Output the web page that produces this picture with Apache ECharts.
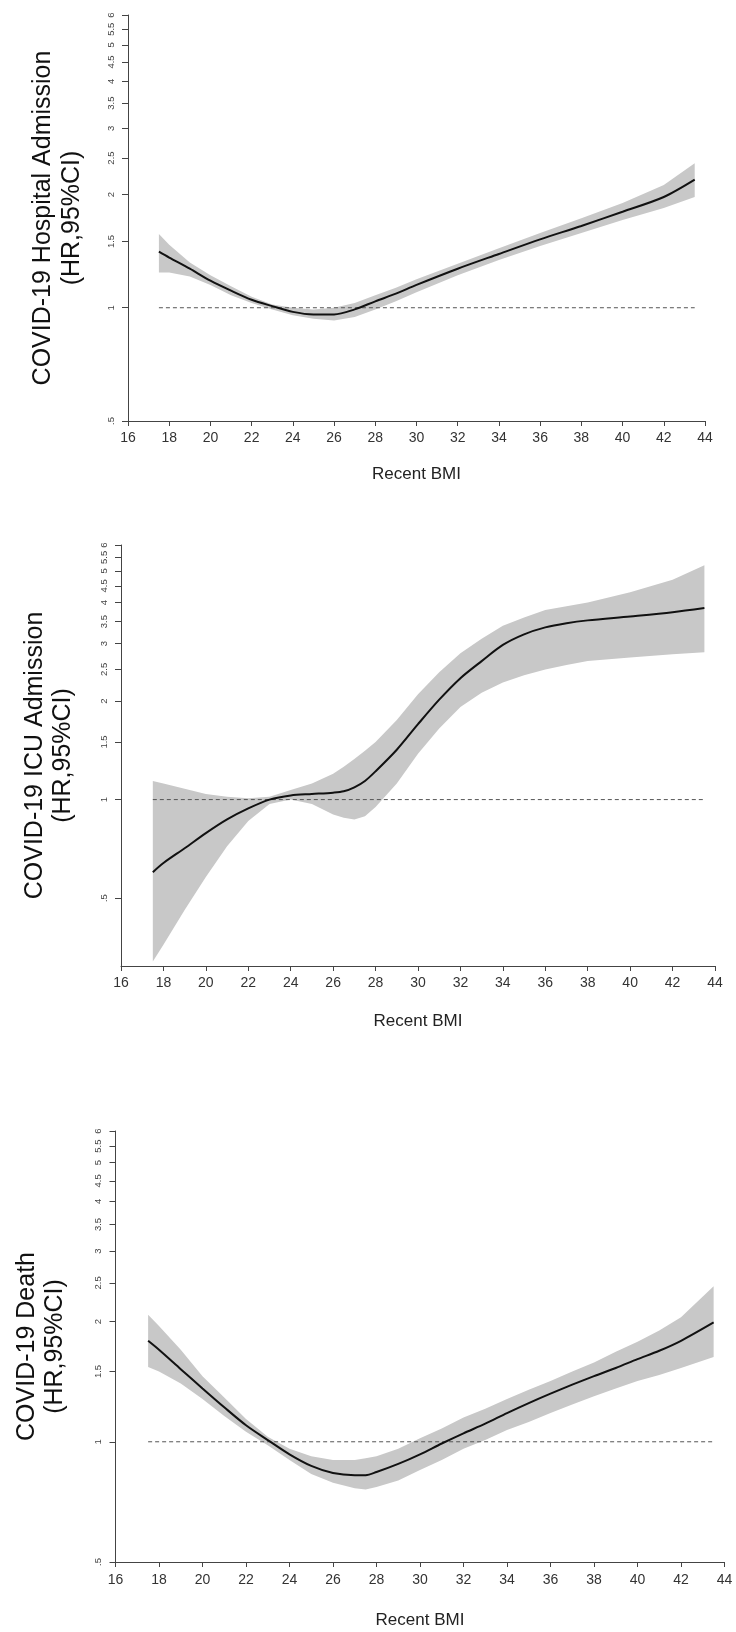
<!DOCTYPE html>
<html><head><meta charset="utf-8">
<script src="https://cdn.jsdelivr.net/npm/echarts@6/dist/echarts.min.js"></script>
<style>html,body{margin:0;padding:0;background:#fff}#c{width:736px;height:1632px}</style>
</head><body><div id="c"></div>
<script>
// ---- data ----
const yTicks = [0.5, 1, 1.5, 2, 2.5, 3, 3.5, 4, 4.5, 5, 5.5, 6];
const refHR = 1;
const bmiRange = [17.5, 43.5];

// Panel 1: Hospital admission
const bmi1 = [17.5, 18, 19, 20, 21, 22, 23, 24, 25, 26, 27, 28, 29, 30, 32, 34, 36, 38, 40, 42, 43.5];
const hr1  = [1.41, 1.36, 1.27, 1.18, 1.11, 1.05, 1.01, 0.975, 0.96, 0.96, 0.99, 1.04, 1.09, 1.15, 1.27, 1.39, 1.52, 1.65, 1.80, 1.97, 2.19];
const hi1  = [1.57, 1.47, 1.32, 1.22, 1.14, 1.07, 1.02, 1.00, 0.99, 1.00, 1.03, 1.08, 1.13, 1.19, 1.31, 1.44, 1.58, 1.73, 1.90, 2.12, 2.42];
const lo1  = [1.24, 1.24, 1.21, 1.15, 1.08, 1.03, 0.99, 0.955, 0.935, 0.925, 0.945, 0.99, 1.04, 1.10, 1.22, 1.34, 1.46, 1.58, 1.71, 1.84, 1.97];

// Panel 2: ICU admission
const bmi2 = [17.5, 18, 19, 20, 21, 22, 23, 24, 25, 26, 26.5, 27, 27.5, 28, 29, 30, 31, 32, 33, 34, 35, 36, 37, 38, 40, 42, 43.5];
const hr2  = [0.60, 0.64, 0.71, 0.79, 0.87, 0.94, 1.00, 1.03, 1.04, 1.05, 1.06, 1.09, 1.14, 1.22, 1.42, 1.70, 2.02, 2.35, 2.65, 2.97, 3.20, 3.36, 3.46, 3.53, 3.63, 3.74, 3.85];
const hi2  = [1.14, 1.12, 1.08, 1.04, 1.02, 1.01, 1.02, 1.07, 1.12, 1.20, 1.26, 1.33, 1.41, 1.50, 1.75, 2.10, 2.45, 2.80, 3.10, 3.40, 3.60, 3.80, 3.90, 4.00, 4.30, 4.70, 5.20];
const lo2  = [0.32, 0.36, 0.46, 0.58, 0.72, 0.86, 0.97, 1.00, 0.97, 0.90, 0.88, 0.87, 0.89, 0.95, 1.12, 1.38, 1.65, 1.92, 2.12, 2.28, 2.40, 2.50, 2.58, 2.65, 2.72, 2.78, 2.82];

// Panel 3: Death
const bmi3 = [17.5, 18, 19, 20, 21, 22, 23, 24, 25, 26, 27, 27.5, 28, 29, 30, 31, 32, 33, 34, 35, 36, 37, 38, 39, 40, 41, 42, 43.5];
const hr3  = [1.79, 1.70, 1.52, 1.36, 1.22, 1.10, 1.01, 0.93, 0.87, 0.835, 0.825, 0.825, 0.84, 0.88, 0.93, 0.99, 1.05, 1.11, 1.18, 1.25, 1.32, 1.39, 1.46, 1.53, 1.61, 1.69, 1.79, 1.99];
const hi3  = [2.08, 1.95, 1.70, 1.46, 1.29, 1.14, 1.03, 0.96, 0.92, 0.90, 0.90, 0.91, 0.92, 0.96, 1.02, 1.08, 1.15, 1.21, 1.28, 1.35, 1.42, 1.50, 1.58, 1.68, 1.78, 1.90, 2.05, 2.45];
const lo3  = [1.54, 1.50, 1.40, 1.28, 1.16, 1.06, 0.98, 0.90, 0.83, 0.79, 0.765, 0.76, 0.77, 0.80, 0.85, 0.90, 0.96, 1.01, 1.07, 1.12, 1.18, 1.24, 1.30, 1.36, 1.42, 1.47, 1.53, 1.63];

const titles = [
  ['COVID-19 Hospital Admission', '(HR,95%CI)'],
  ['COVID-19 ICU Admission', '(HR,95%CI)'],
  ['COVID-19 Death', '(HR,95%CI)']
];

// ---- layout ----
const grids = [
  {left: 128, top: 15, width: 577, height: 406, yMin: 0.5, nameGap: 45, labelMargin: 10, titleX: [43, 72]},
  {left: 121, top: 545, width: 594, height: 421, yMin: 0.31, nameGap: 47, labelMargin: 10.5, titleX: [35, 63]},
  {left: 115.5, top: 1131, width: 609, height: 431, yMin: 0.5, nameGap: 50, labelMargin: 11, titleX: [27, 55]}
];
const panels = [
  {bmi: bmi1, hr: hr1, hi: hi1, lo: lo1},
  {bmi: bmi2, hr: hr2, hi: hi2, lo: lo2},
  {bmi: bmi3, hr: hr3, hi: hi3, lo: lo3}
];

const axisColor = '#444';
const option = {
  animation: false,
  backgroundColor: '#fff',
  grid: [], xAxis: [], yAxis: [], series: [], graphic: []
};

grids.forEach((g, i) => {
  option.grid.push({left: g.left, top: g.top, width: g.width, height: g.height, containLabel: false});
  option.xAxis.push({
    type: 'value', gridIndex: i, min: 16, max: 44, interval: 2,
    name: 'Recent BMI', nameLocation: 'middle', nameGap: g.nameGap,
    nameTextStyle: {fontFamily: 'Liberation Sans, Arial', fontSize: 17, color: '#222'},
    axisLine: {onZero: false, lineStyle: {color: axisColor, width: 1}},
    axisTick: {length: 5, lineStyle: {color: axisColor}},
    axisLabel: {margin: g.labelMargin, fontFamily: 'Liberation Sans, Arial', fontSize: 14, color: '#333'},
    splitLine: {show: false}
  });
  option.yAxis.push({
    type: 'log', logBase: 10, gridIndex: i, min: g.yMin, max: 6,
    axisLine: {show: true, lineStyle: {color: axisColor, width: 1}},
    axisTick: {show: true, length: 6, customValues: yTicks, lineStyle: {color: axisColor}},
    axisLabel: {
      customValues: yTicks, rotate: 90, margin: 12,
      fontFamily: 'Liberation Sans, Arial', fontSize: 9.5, color: '#444',
      formatter: v => (v < 1 ? String(v).replace(/^0/, '') : String(v))
    },
    splitLine: {show: false}, minorTick: {show: false}
  });
  const p = panels[i];
  option.series.push({
    type: 'custom', xAxisIndex: i, yAxisIndex: i, z: 1,
    data: p.bmi.map((x, k) => [x, p.lo[k], p.hi[k]]),
    encode: {x: 0, y: [1, 2]},
    renderItem: (params, api) => {
      if (params.dataIndex !== 0) return null;
      const pts = [];
      for (let k = 0; k < p.bmi.length; k++) pts.push(api.coord([p.bmi[k], p.hi[k]]));
      for (let k = p.bmi.length - 1; k >= 0; k--) pts.push(api.coord([p.bmi[k], p.lo[k]]));
      return {type: 'polygon', shape: {points: pts}, style: {fill: '#c8c8c8', stroke: null}};
    },
    silent: true
  });
  option.series.push({
    type: 'line', xAxisIndex: i, yAxisIndex: i, z: 3,
    data: bmiRange.map(x => [x, refHR]), symbol: 'none',
    lineStyle: {color: '#555', width: 1, type: [4, 3]}, silent: true
  });
  option.series.push({
    type: 'line', xAxisIndex: i, yAxisIndex: i, z: 4, smooth: 0.3,
    data: p.bmi.map((x, k) => [x, p.hr[k]]), symbol: 'none',
    lineStyle: {color: '#111', width: 2}, silent: true
  });
  const cy = g.top + g.height / 2;
  titles[i].forEach((t, j) => {
    option.graphic.push({
      type: 'text', x: g.titleX[j], y: cy, rotation: Math.PI / 2,
      style: {text: t, align: 'center', verticalAlign: 'middle',
        font: '25px "Liberation Sans", Arial', fill: '#111'}
    });
  });
});

const chart = echarts.init(document.getElementById('c'), null, {renderer: 'canvas'});
chart.setOption(option);
</script></body></html>
